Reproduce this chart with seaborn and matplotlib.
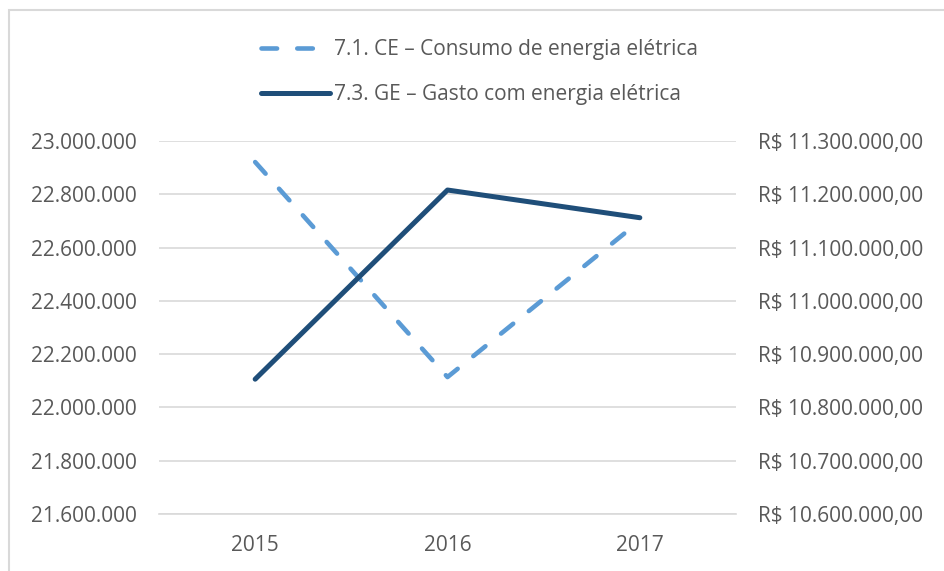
import pandas as pd
import matplotlib
matplotlib.use("Agg")
import matplotlib.pyplot as plt
import seaborn as sns
from matplotlib.patches import Rectangle
from matplotlib.ticker import FuncFormatter, MultipleLocator

# data
years = ["2015", "2016", "2017"]
consumo = [22921000, 22114000, 22700000]      # 7.1. CE (left axis)
gasto = [10853000, 11208000, 11156000]        # 7.3. GE (right axis, R$)
label_ce = "7.1. CE – Consumo de energia elétrica"
label_ge = "7.3. GE – Gasto com energia elétrica"

sns.set_theme(style="white")
plt.rcParams["font.family"] = ["Open Sans", "DejaVu Sans"]

text_color = "#595959"
grid_color = "#D9D9D9"
fs = 15

df = pd.DataFrame({"Ano": years, "CE": consumo, "GE": gasto})

fig = plt.figure(figsize=(9.44, 5.71), dpi=100)
ax = fig.add_axes([159 / 944, 1 - 514 / 571, (736 - 159) / 944, (514 - 141) / 571])
ax2 = ax.twinx()

sns.lineplot(data=df, x="Ano", y="CE", ax=ax, color="#5B9BD5", linewidth=3.3,
             label=label_ce, legend=False)
ax.lines[0].set_dashes((3.4, 4.4))
ax.lines[0].set_dash_capstyle("round")
sns.lineplot(data=df, x="Ano", y="GE", ax=ax2, color="#1F4E79", linewidth=3.6,
             label=label_ge, legend=False)
ax2.lines[0].set_solid_capstyle("round")

ax.set_xlim(-0.5, 2.5)
ax.set_ylim(21600000, 23000000)
ax2.set_ylim(10600000, 11300000)
ax.yaxis.set_major_locator(MultipleLocator(200000))
ax2.yaxis.set_major_locator(MultipleLocator(100000))

ax.yaxis.set_major_formatter(FuncFormatter(lambda v, p: f"{v:,.0f}".replace(",", ".")))
ax2.yaxis.set_major_formatter(FuncFormatter(
    lambda v, p: "R$ " + f"{v:,.2f}".replace(",", "X").replace(".", ",").replace("X", ".")))

ax.grid(axis="y", color=grid_color, linewidth=1.2)
ax.set_axisbelow(True)
for a in (ax, ax2):
    for s in a.spines.values():
        s.set_visible(False)
    a.set_xlabel("")
    a.set_ylabel("")
ax.spines["bottom"].set_visible(True)
ax.spines["bottom"].set_color(grid_color)
ax.spines["bottom"].set_linewidth(1.2)

ax.tick_params(axis="y", length=0, pad=16, labelsize=fs, labelcolor=text_color)
ax2.tick_params(axis="y", length=0, pad=16, labelsize=fs, labelcolor=text_color)
ax.tick_params(axis="x", length=0, pad=15, labelsize=fs, labelcolor=text_color)

h1, l1 = ax.get_legend_handles_labels()
h2, l2 = ax2.get_legend_handles_labels()
leg = fig.legend(h1 + h2, l1 + l2, loc="center", bbox_to_anchor=(0.508, 1 - 72 / 571),
                 frameon=False, fontsize=fs, handlelength=3.3, labelspacing=1.15,
                 handletextpad=0.2)
for t in leg.get_texts():
    t.set_color(text_color)

# light chart-area border (top and left edges visible in the crop)
fig.patches.append(Rectangle((9 / 944, -0.1), 1.2, 1 - 10 / 571 + 0.1,
                             transform=fig.transFigure, fill=False,
                             edgecolor=grid_color, linewidth=1.5))

fig.savefig("out.png", dpi=100)
